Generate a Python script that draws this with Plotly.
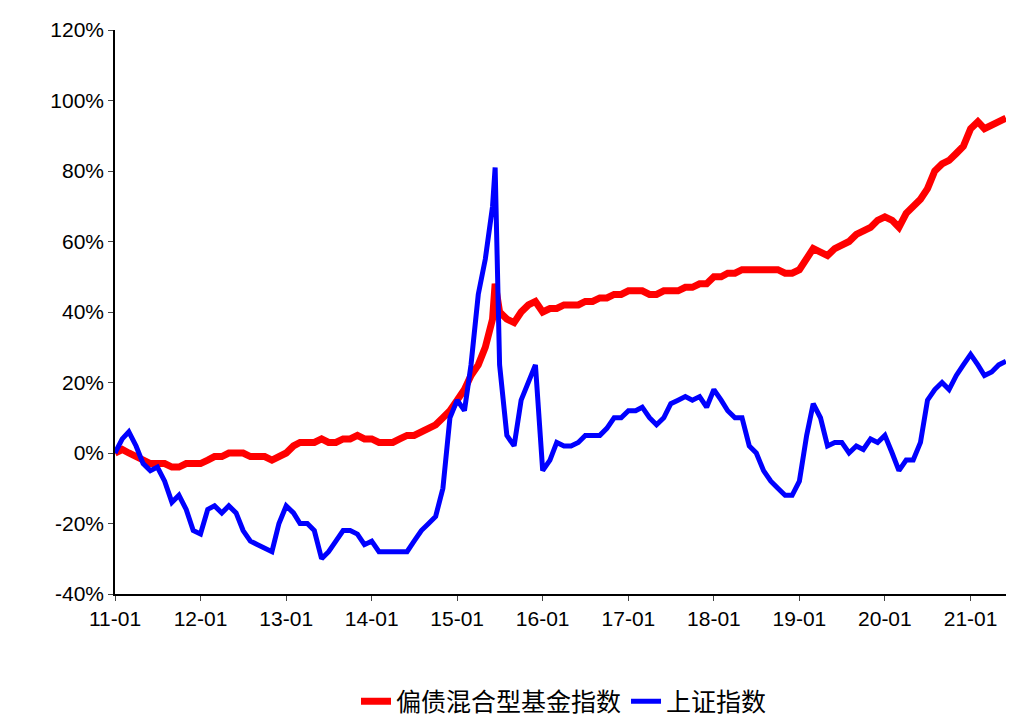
import plotly.graph_objects as go
import pandas as pd

months = pd.date_range("2011-01-01", "2021-06-01", freq="MS").strftime("%Y-%m-%d").tolist()

base_red = [0,1,0,-1,-2,-3,-3,-3,-4,-4,-3,-3,
            -3,-2,-1,-1,0,0,0,-1,-1,-1,-2,-1,
            0,2,3,3,3,4,3,3,4,4,5,4,
            4,3,3,3,4,5,5,6,7,8,10,12,
            15,18,22,25,30,38,40,38,37,40,42,43,
            40,41,41,42,42,42,43,43,44,44,45,45,
            46,46,46,45,45,46,46,46,47,47,48,48,
            50,50,51,51,52,52,52,52,52,52,51,51,
            52,55,58,57,56,58,59,60,62,63,64,66,
            67,66,64,68,70,72,75,80,82,83,85,87,
            92,94,92,93,94,95]
base_blue = [0,4,6,2,-3,-5,-4,-8,-14,-12,-16,-22,
             -23,-16,-15,-17,-15,-17,-22,-25,-26,-27,-28,-20,
             -15,-17,-20,-20,-22,-30,-28,-25,-22,-22,-23,-26,
             -25,-28,-28,-28,-28,-28,-25,-22,-20,-18,-10,10,
             15,12,25,45,55,70,25,5,2,15,20,25,
             -5,-2,3,2,2,3,5,5,5,7,10,10,
             12,12,13,10,8,10,14,15,16,15,16,13,
             18,15,12,10,10,2,0,-5,-8,-10,-12,-12,
             -8,5,14,10,2,3,3,0,2,1,4,3,
             5,0,-5,-2,-2,3,15,18,20,18,22,25,
             28,25,22,23,25,26]

dates = months[:54] + ["2015-06-12"] + months[54:]
red_series = base_red[:54] + [48] + base_red[54:]
blue_series = base_blue[:54] + [81] + base_blue[54:]

tick_vals = ["2011-01-01","2012-01-01","2013-01-01","2014-01-01","2015-01-01","2016-01-01",
             "2017-01-01","2018-01-01","2019-01-01","2020-01-01","2021-01-01"]
tick_text = ["11-01","12-01","13-01","14-01","15-01","16-01","17-01","18-01","19-01","20-01","21-01"]
y_ticks = [-40,-20,0,20,40,60,80,100,120]

fig = go.Figure()
fig.add_trace(go.Scatter(x=dates, y=red_series, mode="lines", name="偏债混合型基金指数",
                         line=dict(color="#FF0000", width=7)))
fig.add_trace(go.Scatter(x=dates, y=blue_series, mode="lines", name="上证指数",
                         line=dict(color="#0000FF", width=5)))
fig.update_layout(
    width=1014, height=726, paper_bgcolor="white", plot_bgcolor="white",
    margin=dict(l=107, r=9, t=22, b=111),
    font=dict(family="Liberation Sans, Noto Sans CJK SC", size=21, color="black"),
    legend=dict(orientation="h", x=0.5, xanchor="center", y=-0.15, yanchor="top",
                font=dict(family="Noto Sans CJK SC", size=25)),
    xaxis=dict(range=["2011-01-01", "2021-07-01"], tickvals=tick_vals, ticktext=tick_text,
               showline=True, linecolor="black", linewidth=1.5, ticks="outside",
               showgrid=False, zeroline=False),
    yaxis=dict(range=[-40, 120], tickvals=y_ticks, ticktext=[f"{v}%" for v in y_ticks],
               showline=True, linecolor="black", linewidth=1.5, ticks="outside",
               showgrid=False, zeroline=False),
)
fig.write_html("out.html")
